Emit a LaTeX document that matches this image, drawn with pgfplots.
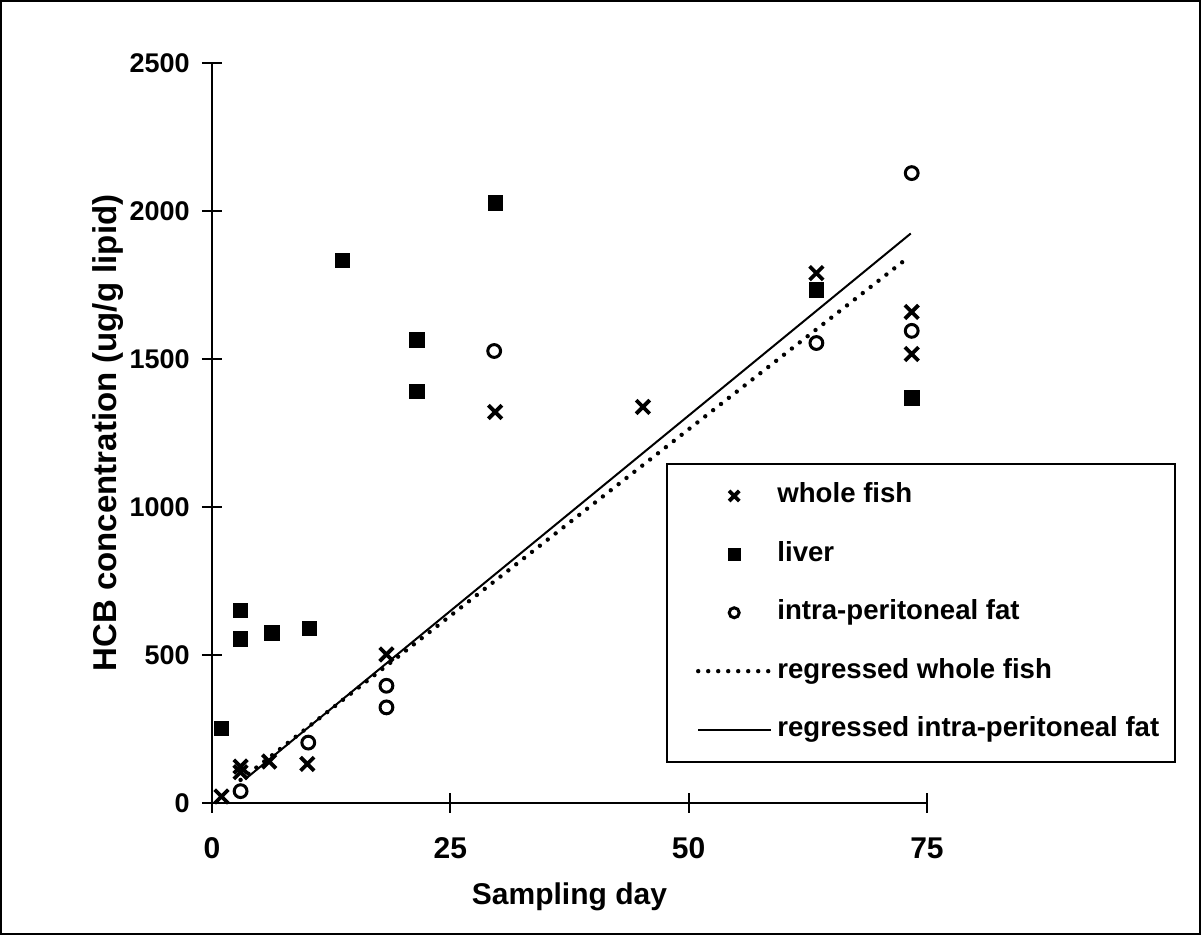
\documentclass[border=0pt]{standalone}
\usepackage{pgfplots}
\pgfplotsset{compat=1.18}
\usepackage{fontspec}
\setmainfont{Liberation Sans}
\pgfplotsset{
  legmark/.style={legend image code/.code={\path (0pt,0pt) (45pt,0pt); \draw[##1, mark size=#1] plot coordinates {(26.5pt,0pt)};}},
  legline/.style={legend image code/.code={\path (0pt,0pt); \draw[##1] (8.5pt,0pt) -- (45pt,0pt);}},
}
\begin{document}
\begin{tikzpicture}
\begin{axis}[
  scale only axis,
  width=357.5pt, height=370pt,
  xmin=0, xmax=75, ymin=0, ymax=2500,
  axis x line=bottom, axis y line=left,
  axis line style={-, line width=1.2pt},
  xtick={0,25,50,75}, ytick={0,500,1000,1500,2000,2500},
  tick align=center,
  major tick length=10pt,
  tick style={line width=1.1pt, black},
  /pgf/number format/assume math mode=true,
  /pgf/number format/set thousands separator={},
  xticklabel style={font=\fontsize{15}{18}\selectfont\bfseries, anchor=center, yshift=-17.5pt},
  yticklabel style={font=\fontsize{13.5}{16}\selectfont\bfseries, anchor=east, inner sep=0pt, xshift=-6pt},
  xlabel={Sampling day},
  ylabel={HCB concentration (ug/g lipid)},
  xlabel style={at={(axis description cs:0.5,-0.127)}, anchor=center, font=\fontsize{15}{18}\selectfont\bfseries},
  ylabel style={at={(axis description cs:-0.1455,0.5)}, anchor=center, font=\fontsize{16.5}{19}\selectfont\bfseries},
  clip=false,
  legend style={at={(axis description cs:0.635,0.4595)}, anchor=north west, draw=black, line width=1pt,
    font=\fontsize{13.8}{16}\selectfont\bfseries, inner xsep=6pt, inner ysep=7.5pt, row sep=12.2pt,
    nodes={text height=10pt, text depth=3pt}},
  legend cell align=left,
]
\addplot[only marks, mark=x, mark size=4.8pt, line width=1.9pt, legmark=3.6pt]
  coordinates {(1,22) (3,104) (3,123) (6,140) (10,132) (18.3,502) (29.7,1321) (45.2,1338) (63.4,1790) (73.4,1659) (73.4,1517)};
\addlegendentry{whole fish}
\addplot[only marks, mark=square*, mark size=3.6pt, legmark=2.8pt]
  coordinates {(1,252) (3,650) (3,554) (6.3,575) (10.2,590) (13.7,1834) (21.5,1565) (21.5,1390) (29.7,2027) (63.4,1733) (73.4,1368)};
\addlegendentry{liver}
\addplot[only marks, mark=o, mark size=3.2pt, line width=1.5pt, legmark=2.5pt]
  coordinates {(3,40) (10.1,204) (18.3,396) (18.3,323) (29.6,1527) (63.4,1554) (73.4,1595) (73.4,2128)};
\addlegendentry{intra-peritoneal fat}
\addplot[black, line width=2.2pt, line cap=round, dash pattern=on 0pt off 5pt, legline]
  coordinates {(3,78) (72.8,1837)};
\addlegendentry{regressed whole fish}
\addplot[black, line width=1pt, legline]
  coordinates {(3.5,81) (73.3,1924)};
\addlegendentry{regressed intra-peritoneal fat}
\end{axis}
\draw[line width=1.2pt] (-105.4pt,-65.4pt) rectangle (493.9pt,400.9pt);
\pgfresetboundingbox
\path[use as bounding box] (-106pt,-66pt) rectangle (494.5pt,401.5pt);
\end{tikzpicture}
\end{document}
